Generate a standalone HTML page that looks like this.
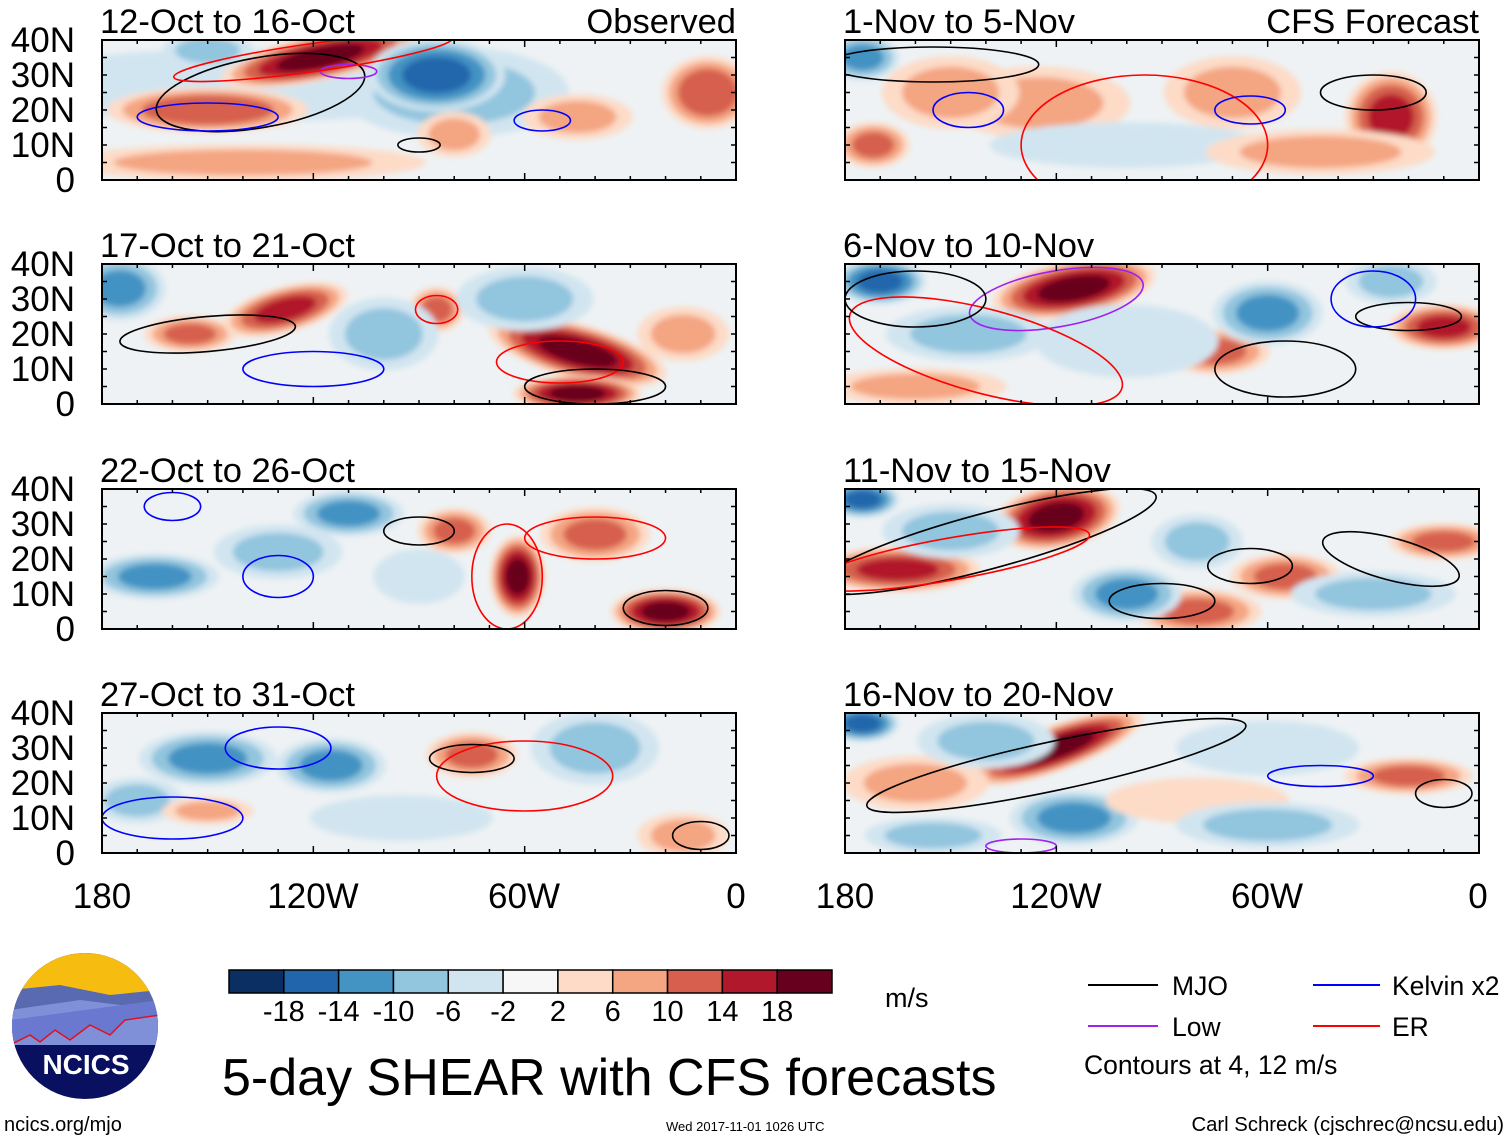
<!DOCTYPE html>
<html><head><meta charset="utf-8"><style>
html,body{margin:0;padding:0;background:#fff;}
svg{display:block;font-family:"Liberation Sans",sans-serif;}
</style></head><body>
<svg id="fig" width="1510" height="1141" viewBox="0 0 1510 1141">
<defs>
<filter id="blur" x="-20%" y="-20%" width="140%" height="140%"><feGaussianBlur stdDeviation="3"/></filter>
</defs>
<g id="panels"></g>
<g font-size="35" text-anchor="middle">
<text x="102" y="908">180</text><text x="313" y="908">120W</text><text x="524" y="908">60W</text><text x="736" y="908">0</text></g>
<g font-size="35" text-anchor="middle">
<text x="845" y="908">180</text><text x="1056" y="908">120W</text><text x="1267" y="908">60W</text><text x="1478" y="908">0</text></g>
<g id="cbar"></g>
<text x="885" y="1007" font-size="27">m/s</text>
<text x="222" y="1095" font-size="52">5-day SHEAR with CFS forecasts</text>
<g font-size="26.5">
<line x1="1088" y1="985" x2="1158" y2="985" stroke="#000" stroke-width="2"/>
<text x="1172" y="995">MJO</text>
<line x1="1313" y1="985" x2="1380" y2="985" stroke="#0000ff" stroke-width="2"/>
<text x="1392" y="995">Kelvin x2</text>
<line x1="1088" y1="1026" x2="1158" y2="1026" stroke="#a020f0" stroke-width="2"/>
<text x="1172" y="1036">Low</text>
<line x1="1313" y1="1026" x2="1380" y2="1026" stroke="#ff0000" stroke-width="2"/>
<text x="1392" y="1036">ER</text>
<text x="1084" y="1074">Contours at 4, 12 m/s</text>
</g>
<g>
<clipPath id="logoclip"><circle cx="85" cy="1026" r="73"/></clipPath>
<g clip-path="url(#logoclip)">
<rect x="10" y="950" width="150" height="160" fill="#0a1060"/>
<rect x="10" y="950" width="150" height="50" fill="#f6bd10"/>
<path d="M10 990 L60 985 L110 995 L160 990 L160 1040 L10 1040Z" fill="#5a6ab0"/>
<path d="M10 1010 L80 1000 L160 1010 L160 1045 L10 1045Z" fill="#8090d8"/>
<path d="M10 1045 L30 1035 L40 1042 L55 1030 L70 1040 L90 1025 L110 1035 L125 1020 L160 1015 L160 1000 L10 1020Z" fill="#6a78d0"/>
<path d="M10 1045 L30 1035 L40 1042 L55 1030 L70 1040 L90 1025 L110 1035 L125 1020 L160 1015" fill="none" stroke="#e01020" stroke-width="1.5"/>
</g>
<text x="86" y="1074" font-size="28" font-weight="bold" fill="#fff" text-anchor="middle">NCICS</text>
</g>
<text x="4" y="1131" font-size="20">ncics.org/mjo</text>
<text x="666" y="1131" font-size="13">Wed 2017-11-01 1026 UTC</text>
<text x="1504" y="1131" font-size="20.3" text-anchor="end">Carl Schreck (cjschrec@ncsu.edu)</text>
</svg>
<script>
const NS="http://www.w3.org/2000/svg";
const levels=[-18,-14,-10,-6,-2,2,6,10,14,18];
const colors=["#0b2f62","#2166ac","#4393c3","#92c5de","#d1e5f0","#f7f7f7","#fddbc7","#f4a582","#d6604d","#b2182b","#67001f"];
const panelTitles=["12-Oct to 16-Oct","17-Oct to 21-Oct","22-Oct to 26-Oct","27-Oct to 31-Oct","1-Nov to 5-Nov","6-Nov to 10-Nov","11-Nov to 15-Nov","16-Nov to 20-Nov"];
const latTicks=[40,30,20,10,0];
const latLabels=["40N","30N","20N","10N","0"];
// blobs: [lon, lat, rxDeg, ryDeg, value, rotateDeg]
const blobs0=[[-140,27,55,8,-4,0],[-80,25,25,10,-6,0],[-118,35,22,5,18,-12],[-150,20,22,5,12,0],[-85,30,15,8,-14,0],[-8,25,10,8,12,0],[-80,13,8,5,6,0],[-150,37,10,4,-6,0],[-140,5,40,4,6,0],[-45,18,12,5,6,0]];
const blobs1=[[-175,33,10,7,-10,0],[-128,27,14,5,14,-15],[-155,20,10,4,10,0],[-85,27,6,5,10,0],[-45,15,20,6,18,15],[-45,3,14,4,18,0],[-100,20,12,8,-6,0],[-60,30,15,7,-6,0],[-15,20,10,6,6,0]];
const blobs2=[[-62,15,6,9,18,0],[-80,28,8,5,10,0],[-40,27,12,6,10,0],[-20,5,12,5,18,0],[-165,15,14,5,-10,0],[-110,33,12,5,-10,0],[-130,22,14,6,-6,0],[-90,15,10,6,-4,0]];
const blobs3=[[-150,27,15,6,-10,0],[-115,25,12,6,-10,0],[-170,15,10,5,-6,0],[-75,28,10,5,10,0],[-150,12,10,3,6,0],[-15,5,10,5,6,0],[-40,30,14,8,-6,0],[-95,10,20,5,-4,0]];
const blobs4=[[-25,18,10,10,14,0],[-172,10,8,5,10,0],[-125,22,20,8,6,0],[-150,25,15,8,6,0],[-175,35,8,5,-10,0],[-70,25,15,8,6,0],[-100,10,30,5,-4,0],[-45,8,25,5,6,0]];
const blobs5=[[-115,33,18,6,18,-10],[-170,35,10,5,-14,0],[-10,22,12,5,14,0],[-75,15,12,5,10,0],[-60,26,12,7,-10,0],[-145,20,18,6,-6,0],[-160,5,20,4,6,0],[-100,18,20,8,-4,0],[-25,35,10,5,-6,0]];
const blobs6=[[-120,32,14,7,18,-10],[-165,17,18,5,14,0],[-175,37,8,4,-14,0],[-80,5,14,5,10,0],[-55,15,12,5,10,0],[-10,25,12,4,10,0],[-100,10,12,6,-10,0],[-30,10,18,5,-6,0],[-150,28,15,6,-6,0],[-80,25,10,6,-6,0]];
const blobs7=[[-120,30,20,5,18,-20],[-175,37,8,4,-14,0],[-160,20,16,6,6,0],[-115,10,14,6,-10,0],[-155,5,15,4,-6,0],[-20,22,14,4,10,0],[-140,32,15,6,-6,0],[-60,30,20,6,-4,0],[-80,15,20,5,4,0],[-60,8,20,5,-6,0]];
const allBlobs=[blobs0,blobs1,blobs2,blobs3,blobs4,blobs5,blobs6,blobs7];
// contours: [lon, lat, rxDeg, ryDeg, type, rotate]
const cont0=[[-135,25,30,10,"mjo",-10],[-150,18,20,4,"kelvin",0],[-90,10,6,2,"mjo",0],[-110,31,8,2,"low",0],[-55,17,8,3,"kelvin",0],[-120,35,40,4,"er",-8]];
const cont1=[[-150,20,25,5,"mjo",-5],[-50,12,18,6,"er",0],[-40,5,20,5,"mjo",0],[-85,27,6,4,"er",0],[-120,10,20,5,"kelvin",0]];
const cont2=[[-40,26,20,6,"er",0],[-65,15,10,15,"er",0],[-160,35,8,4,"kelvin",0],[-130,15,10,6,"kelvin",0],[-20,6,12,5,"mjo",0],[-90,28,10,4,"mjo",0]];
const cont3=[[-60,22,25,10,"er",0],[-130,30,15,6,"kelvin",0],[-160,10,20,6,"kelvin",0],[-75,27,12,4,"mjo",0],[-10,5,8,4,"mjo",0]];
const cont4=[[-155,33,30,5,"mjo",0],[-30,25,15,5,"mjo",0],[-95,10,35,20,"er",0],[-145,20,10,5,"kelvin",0],[-65,20,10,4,"kelvin",0]];
const cont5=[[-120,30,25,8,"low",-10],[-140,15,40,12,"er",15],[-55,10,20,8,"mjo",0],[-20,25,15,4,"mjo",0],[-160,30,20,8,"mjo",0],[-30,30,12,8,"kelvin",0]];
const cont6=[[-140,25,50,8,"mjo",-15],[-150,20,40,6,"er",-10],[-90,8,15,5,"mjo",0],[-25,20,20,6,"mjo",15],[-65,18,12,5,"mjo",0]];
const cont7=[[-120,25,55,7,"mjo",-12],[-45,22,15,3,"kelvin",0],[-10,17,8,4,"mjo",0],[-130,2,10,2,"low",0]];
const allConts=[cont0,cont1,cont2,cont3,cont4,cont5,cont6,cont7];
const ctype={mjo:"#000",kelvin:"#0000ff",low:"#a020f0",er:"#ff0000"};

const PW=634,PH=140;
const lefts=[102,845],tops=[40,264,489,713];
function colorFor(v){let i=0;while(i<levels.length&&v>levels[i])i++;return colors[i];}
function mk(tag,attrs,parent){const e=document.createElementNS(NS,tag);for(const k in attrs)e.setAttribute(k,attrs[k]);parent.appendChild(e);return e;}
const panelsG=document.getElementById("panels");
for(let p=0;p<8;p++){
  const col=p<4?0:1,row=p%4;
  const x0=lefts[col],y0=tops[row];
  const xs=lon=>x0+(lon+180)/180*PW;
  const ys=lat=>y0+PH-(lat/40)*PH;
  const g=mk("g",{},panelsG);
  
  
  const cp=mk("clipPath",{id:"cp"+p},g);
  mk("rect",{x:x0,y:y0,width:PW,height:PH},cp);
  const inner=mk("g",{"clip-path":"url(#cp"+p+")"},g);
  mk("rect",{x:x0,y:y0,width:PW,height:PH,fill:"#eef2f4"},inner);
  const fg=mk("g",{filter:"url(#blur)"},inner);
  allBlobs[p].forEach(b=>{
    const [lon,lat,rx,ry,v,rot]=b;
    const s=Math.sign(v),a=Math.abs(v);
    for(let L=2;L<a+0.1;L+=4){
      const f=1.3*Math.sqrt(1-(L-2)/(a+2));
      const cx=xs(lon),cy=ys(lat);
      const e=mk("ellipse",{cx:cx,cy:cy,rx:rx*PW/180*f,ry:ry*PH/40*f,fill:colorFor(s*(L+1)),transform:`rotate(${rot} ${cx} ${cy})`},fg);
      
      
    }
  });
  allConts[p].forEach(c=>{
    const [lon,lat,rx,ry,t,rot]=c;
    const cx=xs(lon),cy=ys(lat);
    const e=mk("ellipse",{cx:cx,cy:cy,rx:rx*PW/180,ry:ry*PH/40,fill:"none",stroke:ctype[t],"stroke-width":1.6,transform:`rotate(${rot} ${cx} ${cy})`},inner);
    
    
  });
  const fr=mk("rect",{x:x0,y:y0,width:PW,height:PH,fill:"none",stroke:"#000","stroke-width":2},g);
  
  
  for(let lon=-180;lon<=0;lon+=10){
    const x=xs(lon),len=(lon%60===0)?7:4;
    mk("line",{x1:x,y1:y0,x2:x,y2:y0+len,stroke:"#000","stroke-width":1.5},g);
    mk("line",{x1:x,y1:y0+PH,x2:x,y2:y0+PH-len,stroke:"#000","stroke-width":1.5},g);
  }
  for(let lat=0;lat<=40;lat+=5){
    const y=ys(lat);
    mk("line",{x1:x0,y1:y,x2:x0+5,y2:y,stroke:"#000","stroke-width":1.5},g);
    mk("line",{x1:x0+PW,y1:y,x2:x0+PW-5,y2:y,stroke:"#000","stroke-width":1.5},g);
  }
  const tt=mk("text",{x:x0-2,y:y0-7,"font-size":34.5},g);
  tt.textContent=panelTitles[p];
  
  
  if(p===0||p===4){
    const tr=mk("text",{x:x0+PW,y:y0-7,"font-size":34.5,"text-anchor":"end"},g);
    tr.textContent=p===0?"Observed":"CFS Forecast";
    
    
  }
  if(col===0){
    latTicks.forEach((lat,i)=>{
      const t=mk("text",{x:75,y:ys(lat)+12,"font-size":35,"text-anchor":"end"},g);
      t.textContent=latLabels[i];
      
      
    });
  }
}
// colorbar
const cb=document.getElementById("cbar");
const cbX=229,cbW=603,cbY=970,cbH=23,bw=cbW/colors.length;
colors.forEach((c,i)=>{
  const r=mk("rect",{x:cbX+i*bw,y:cbY,width:bw,height:cbH,fill:c,stroke:"#000","stroke-width":1.5},cb);
  
  
});
levels.forEach((l,i)=>{
  const t=mk("text",{x:cbX+(i+1)*bw,y:1021,"font-size":29,"text-anchor":"middle"},cb);
  t.textContent=String(l);
  
  
});
</script>
</body></html>
